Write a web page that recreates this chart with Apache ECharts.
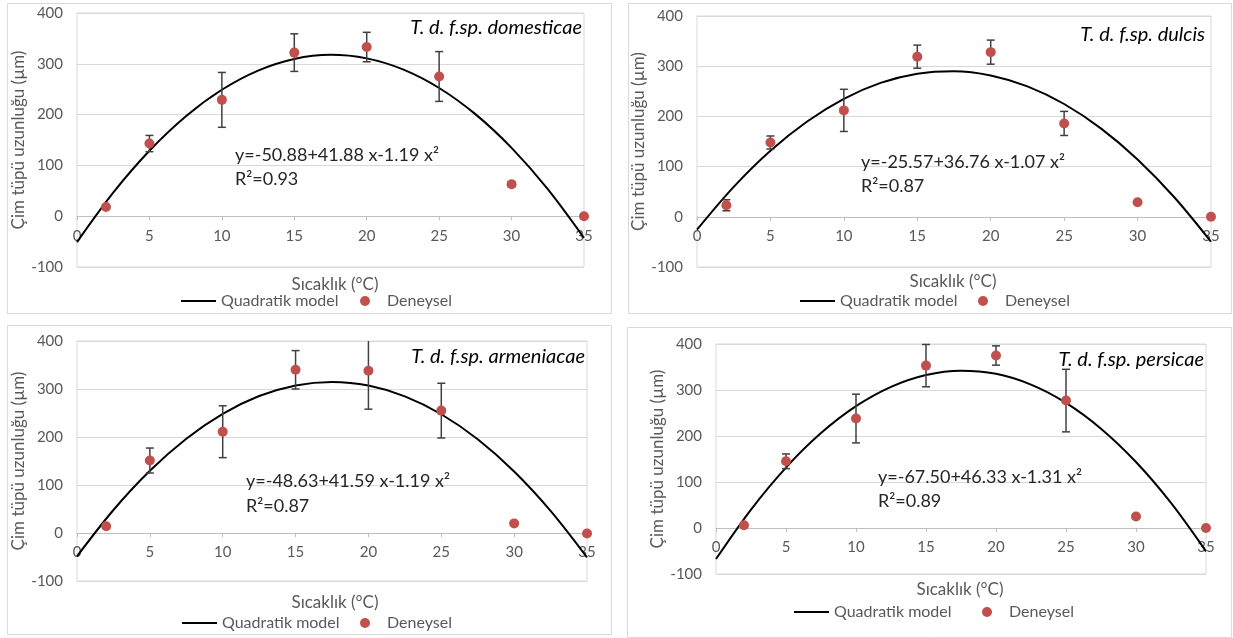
<!DOCTYPE html>
<html>
<head>
<meta charset="utf-8">
<script src="https://cdn.jsdelivr.net/npm/echarts@6/dist/echarts.min.js"></script>
<style>
  html, body { margin: 0; padding: 0; background: #fff; }
  #main { width: 1233px; height: 638px; }
</style>
</head>
<body>
<div id="main"></div>
<script>
// sıcaklık noktaları (°C)
var temps = [2, 5, 10, 15, 20, 25, 30, 35];

// deneysel ortalamalar ve hata çubukları (µm)
var domesticaeMean = [18, 143, 229, 322, 333, 275, 63, 0];
var domesticaeErr = [0, 16, 54, 37, 29, 49, 5, 0];
var dulcisMean = [23, 148, 212, 319, 328, 186, 29, 0];
var dulcisErr = [11, 13, 42, 23, 24, 24, 0, 0];
var armeniacaeMean = [14, 151, 211, 340, 338, 255, 20, -1];
var armeniacaeErr = [4, 26, 54, 40, 80, 57, 0, 0];
var persicaeMean = [6, 145, 238, 353, 375, 277, 25, 0];
var persicaeErr = [0, 16, 53, 46, 21, 68, 0, 0];

// quadratik model eğrisi, okunan noktalar
var curveX = [0, 2.5, 5, 7.5, 10, 12.5, 15, 17.5, 20, 22.5, 25, 27.5, 30, 32.5, 35];
var domesticaeCurve = [-50.9, 46.4, 128.8, 196.3, 248.9, 286.7, 309.6, 317.6, 310.7, 289.0, 252.4, 200.9, 134.5, 53.3, -42.8];
var dulcisCurve = [-25.6, 59.6, 131.5, 189.9, 235.0, 266.7, 285.1, 290.0, 281.6, 259.8, 224.7, 176.1, 114.2, 38.9, -49.7];
var armeniacaeCurve = [-48.6, 47.9, 129.6, 196.4, 248.3, 285.3, 307.5, 314.8, 307.2, 284.7, 247.4, 195.2, 128.1, 46.1, -50.7];
var persicaeCurve = [-67.5, 40.1, 131.4, 206.3, 264.8, 306.9, 332.7, 342.1, 335.1, 311.7, 272.0, 215.9, 143.4, 54.5, -50.7];

var speciesNames = ['T. d. f.sp. domesticae', 'T. d. f.sp. dulcis', 'T. d. f.sp. armeniacae', 'T. d. f.sp. persicae'];
var equations = ['y=-50.88+41.88 x-1.19 x²', 'y=-25.57+36.76 x-1.07 x²', 'y=-48.63+41.59 x-1.19 x²', 'y=-67.50+46.33 x-1.31 x²'];
var r2Labels = ['R²=0.93', 'R²=0.87', 'R²=0.87', 'R²=0.89'];

var yMin = -100, yMax = 400, yStep = 100;
var xMin = 0, xMax = 35, xStep = 5;
var xTitle = 'Sıcaklık (°C)';
var yTitle = 'Çim tüpü uzunluğu (µm)';
var lineName = 'Quadratik model';
var dotName = 'Deneysel';

var means = [domesticaeMean, dulcisMean, armeniacaeMean, persicaeMean];
var errs = [domesticaeErr, dulcisErr, armeniacaeErr, persicaeErr];
var curves = [domesticaeCurve, dulcisCurve, armeniacaeCurve, persicaeCurve];

// panel yerleşimi
var panels = [
  { box: [7, 3, 604, 310], grid: [77, 13, 507, 254], title: [582, 28], eq: [235, 155], r2: [235, 179], xt: [335, 285], leg: [181, 360, 293] },
  { box: [628, 3, 603, 310], grid: [697, 16, 514, 251], title: [1205, 35], eq: [861, 162], r2: [861, 186], xt: [953, 282], leg: [800, 978, 293] },
  { box: [7, 325, 604, 309], grid: [77, 341, 510, 240], title: [585, 357], eq: [246, 481], r2: [246, 506], xt: [335, 603], leg: [182, 360, 615] },
  { box: [627, 327, 604, 310], grid: [716, 344, 490, 230], title: [1204, 360], eq: [878, 477], r2: [878, 501], xt: [960, 590], leg: [794, 982, 604] }
];

var FONT = 'Lato, "Open Sans", sans-serif';
var GRAY = '#595959';

function renderErr(params, api) {
  var x = api.value(0), m = api.value(1), s = api.value(2);
  if (!s) return null;
  var hi = Math.min(m + s, yMax), lo = Math.max(m - s, yMin);
  var pHi = api.coord([x, hi]), pLo = api.coord([x, lo]);
  var w = 4;
  var st = { stroke: '#404040', lineWidth: 1.5 };
  var kids = [{ type: 'line', shape: { x1: pHi[0], y1: pHi[1], x2: pLo[0], y2: pLo[1] }, style: st }];
  if (m + s <= yMax) kids.push({ type: 'line', shape: { x1: pHi[0] - w, y1: pHi[1], x2: pHi[0] + w, y2: pHi[1] }, style: st });
  kids.push({ type: 'line', shape: { x1: pLo[0] - w, y1: pLo[1], x2: pLo[0] + w, y2: pLo[1] }, style: st });
  return { type: 'group', children: kids };
}

var grids = [], xAxes = [], yAxes = [], series = [], legends = [], graphics = [];

panels.forEach(function (p, i) {
  var h = p.grid[3];
  grids.push({ left: p.grid[0], top: p.grid[1], width: p.grid[2], height: h, show: true, borderColor: '#d9d9d9', borderWidth: 1, backgroundColor: 'transparent' });
  xAxes.push({
    type: 'value', gridIndex: i, min: xMin, max: xMax, interval: xStep,
    position: 'bottom',
    // eksen çizgisi y=0 hizasında
    offset: -h * (0 - yMin) / (yMax - yMin),
    axisLine: { onZero: false, lineStyle: { color: '#bfbfbf' } },
    axisTick: { show: true, length: 4, lineStyle: { color: '#bfbfbf' } },
    axisLabel: { color: GRAY, fontSize: 15, fontFamily: FONT, margin: 12 },
    splitLine: { show: false }
  });
  yAxes.push({
    type: 'value', gridIndex: i, min: yMin, max: yMax, interval: yStep,
    name: yTitle, nameLocation: 'middle', nameGap: 39,
    nameTextStyle: { color: GRAY, fontSize: 17, fontFamily: FONT },
    axisLine: { show: false, onZero: false }, axisTick: { show: false },
    axisLabel: { color: GRAY, fontSize: 15, fontFamily: FONT, margin: 14 },
    splitLine: { lineStyle: { color: '#d9d9d9' } }
  });
  series.push({
    name: lineName, type: 'line', xAxisIndex: i, yAxisIndex: i, smooth: 0.33, symbol: 'none',
    lineStyle: { color: '#000', width: 2 }, itemStyle: { color: '#000' },
    data: curveX.map(function (x, k) { return [x, curves[i][k]]; }), z: 2
  });
  series.push({
    name: 'err' + i, type: 'custom', xAxisIndex: i, yAxisIndex: i, renderItem: renderErr,
    encode: { x: 0, y: 1 },
    data: temps.map(function (t, k) { return [t, means[i][k], errs[i][k]]; }), z: 3
  });
  series.push({
    name: dotName, type: 'scatter', xAxisIndex: i, yAxisIndex: i, symbolSize: 10,
    itemStyle: { color: '#c0504d', opacity: 1 },
    data: temps.map(function (t, k) { return [t, means[i][k]]; }), z: 4
  });
  legends.push({
    data: [{ name: lineName, icon: 'rect' }], left: p.leg[0], top: p.leg[2], padding: 0, itemWidth: 35, itemHeight: 2,
    textStyle: { color: GRAY, fontSize: 16, fontFamily: FONT, lineHeight: 16 }, selectedMode: false
  });
  legends.push({
    data: [{ name: dotName, icon: 'circle' }], left: p.leg[1], top: p.leg[2], padding: 0, itemWidth: 10, itemHeight: 10,
    textStyle: { color: GRAY, fontSize: 16, fontFamily: FONT, lineHeight: 16, padding: [0, 0, 0, 12] }, selectedMode: false
  });
  graphics.push({ type: 'rect', shape: { x: p.box[0] + 0.5, y: p.box[1] + 0.5, width: p.box[2], height: p.box[3] }, style: { fill: 'none', stroke: '#d9d9d9', lineWidth: 1 }, silent: true });
  graphics.push({ type: 'text', x: p.title[0], y: p.title[1], style: { text: speciesNames[i], fill: '#000', font: 'italic 20px ' + FONT, align: 'right', verticalAlign: 'middle' }, z: 10 });
  graphics.push({ type: 'text', x: p.eq[0], y: p.eq[1], style: { text: equations[i], fill: '#262626', font: '18px ' + FONT, align: 'left', verticalAlign: 'middle' }, z: 10 });
  graphics.push({ type: 'text', x: p.r2[0], y: p.r2[1], style: { text: r2Labels[i], fill: '#262626', font: '18px ' + FONT, align: 'left', verticalAlign: 'middle' }, z: 10 });
  graphics.push({ type: 'text', x: p.xt[0], y: p.xt[1], style: { text: xTitle, fill: GRAY, font: '17px ' + FONT, align: 'center', verticalAlign: 'middle' }, z: 10 });
});

var myChart = echarts.init(document.getElementById('main'));
myChart.setOption({
  animation: false,
  backgroundColor: '#fff',
  grid: grids,
  xAxis: xAxes,
  yAxis: yAxes,
  legend: legends,
  series: series,
  graphic: graphics
});
</script>
</body>
</html>
